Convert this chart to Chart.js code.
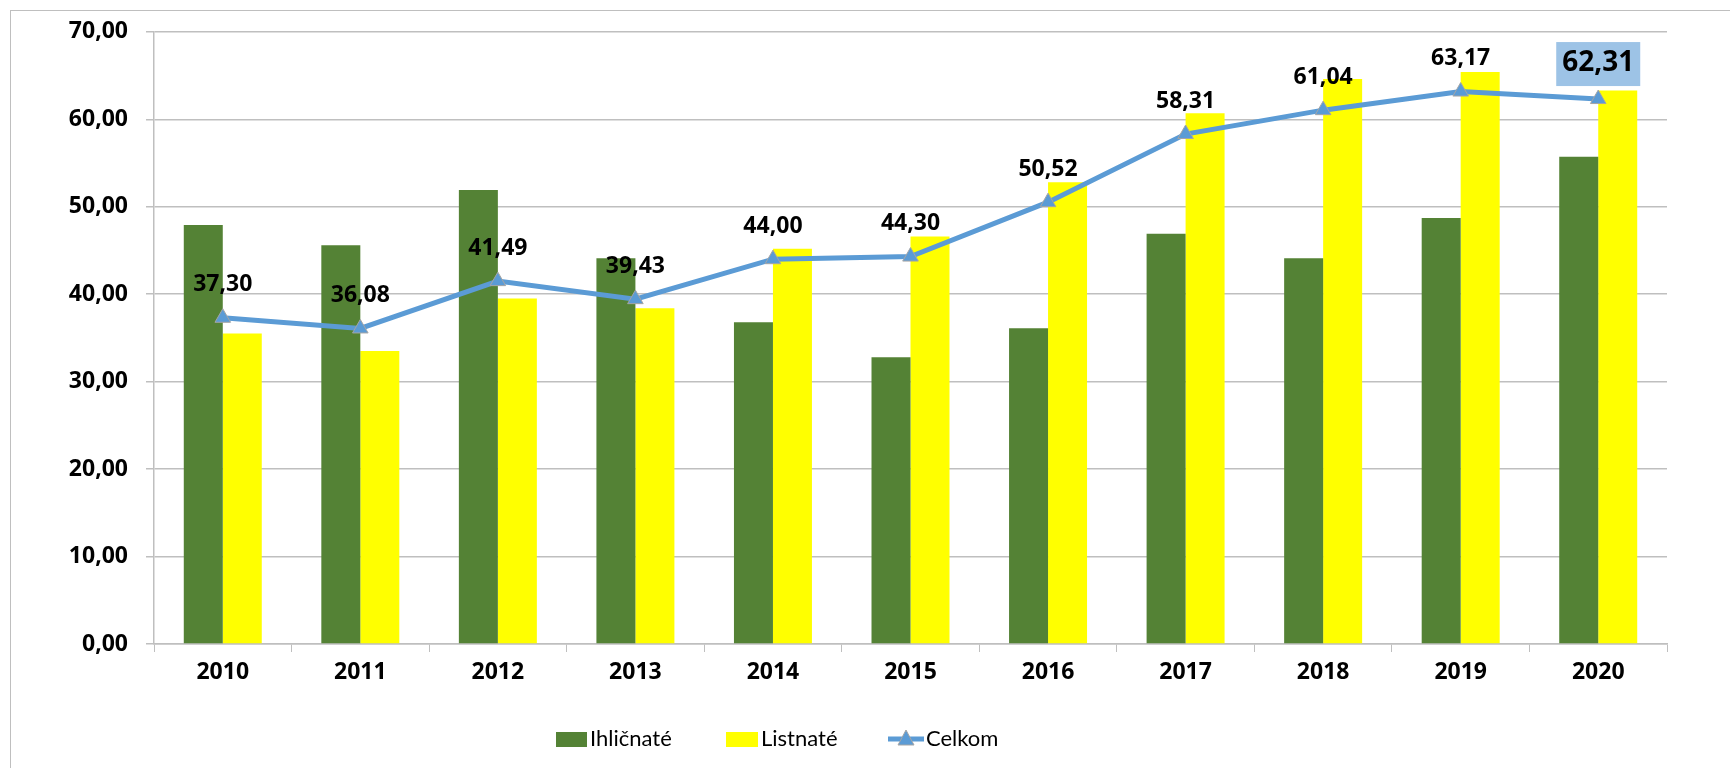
<!DOCTYPE html>
<html>
<head>
<meta charset="utf-8">
<script src="https://cdn.jsdelivr.net/npm/chart.js@4.4.1/dist/chart.umd.min.js"></script>
<style>
  body { margin: 0; background: #fff; }
  #frame { position: absolute; left: 10px; top: 10px; width: 1760px; height: 800px; border: 1.5px solid #BFBFBF; }
  #chart { position: absolute; left: 0; top: 0; }
</style>
</head>
<body>
<div id="frame"></div>
<canvas id="chart" width="1730" height="768"></canvas>
<script>
// data
const years = ['2010', '2011', '2012', '2013', '2014', '2015', '2016', '2017', '2018', '2019', '2020'];
const ihlicnate = [47.9, 45.6, 51.9, 44.1, 36.8, 32.8, 36.1, 46.9, 44.1, 48.7, 55.7];
const listnate = [35.5, 33.5, 39.5, 38.4, 45.2, 46.6, 52.8, 60.7, 64.6, 65.4, 63.3];
const celkom = [37.30, 36.08, 41.49, 39.43, 44.00, 44.30, 50.52, 58.31, 61.04, 63.17, 62.31];

const GREEN = '#548235';
const YELLOW = '#FFFF00';
const BLUE = '#5B9BD5';
const FONT = '"Open Sans", sans-serif';
const LEGEND_FONT = 'Lato, sans-serif';

const fmt = v => v.toFixed(2).replace('.', ',');

// value labels above the Celkom line
const lineLabels = {
    id: 'lineLabels',
    afterDatasetsDraw(chart) {
        const ctx = chart.ctx;
        const meta = chart.getDatasetMeta(0);
        const data = chart.data.datasets[0].data;
        ctx.save();
        ctx.textAlign = 'center';
        ctx.textBaseline = 'middle';
        meta.data.forEach((pt, i) => {
            const txt = fmt(data[i]);
            if (i === data.length - 1) {
                ctx.font = 'bold 28px ' + FONT;
                ctx.fillStyle = '#9DC3E6';
                ctx.fillRect(pt.x - 42, pt.y - 57, 84, 44);
                ctx.fillStyle = '#000';
                ctx.fillText(txt, pt.x, pt.y - 36);
            } else {
                ctx.font = 'bold 23px ' + FONT;
                ctx.fillStyle = '#000';
                ctx.fillText(txt, pt.x, pt.y - 33);
            }
        });
        ctx.restore();
    }
};

// legend drawn by hand so the line entry can carry its triangle
const bottomLegend = {
    id: 'bottomLegend',
    afterDraw(chart) {
        const ctx = chart.ctx;
        const y = 739;
        ctx.save();
        ctx.font = '22px ' + LEGEND_FONT;
        ctx.textBaseline = 'middle';
        ctx.fillStyle = GREEN;
        ctx.fillRect(556, y - 7, 31, 15);
        ctx.fillStyle = YELLOW;
        ctx.fillRect(726, y - 7, 32, 15);
        ctx.strokeStyle = BLUE;
        ctx.lineWidth = 5;
        ctx.beginPath();
        ctx.moveTo(888, y);
        ctx.lineTo(924, y);
        ctx.stroke();
        ctx.fillStyle = BLUE;
        ctx.strokeStyle = '#A5A5A5';
        ctx.lineWidth = 1;
        ctx.beginPath();
        ctx.moveTo(906, y - 9);
        ctx.lineTo(914, y + 6);
        ctx.lineTo(898, y + 6);
        ctx.closePath();
        ctx.fill();
        ctx.stroke();
        ctx.fillStyle = '#000';
        ctx.fillText(chart.data.datasets[1].label, 590, y);
        ctx.fillText(chart.data.datasets[2].label, 761, y);
        ctx.fillText(chart.data.datasets[0].label, 926, y);
        ctx.restore();
    }
};

const ctx = document.getElementById('chart').getContext('2d');
new Chart(ctx, {
    type: 'bar',
    data: {
        labels: years,
        datasets: [{
            type: 'line',
            label: 'Celkom',
            data: celkom,
            borderColor: BLUE,
            backgroundColor: BLUE,
            borderWidth: 5,
            pointStyle: 'triangle',
            pointRadius: 9,
            pointBackgroundColor: BLUE,
            pointBorderColor: '#A5A5A5',
            pointBorderWidth: 1,
            tension: 0,
            order: 0
        },
        {
            label: 'Ihličnaté',
            data: ihlicnate,
            backgroundColor: GREEN,
            categoryPercentage: 0.567,
            barPercentage: 1,
            order: 1
        },
        {
            label: 'Listnaté',
            data: listnate,
            backgroundColor: YELLOW,
            categoryPercentage: 0.567,
            barPercentage: 1,
            order: 1
        }]
    },
    options: {
        responsive: false,
        animation: false,
        devicePixelRatio: 1,
        layout: { padding: { left: 0, right: 63, top: 30, bottom: 60 } },
        plugins: {
            legend: { display: false },
            tooltip: { enabled: false }
        },
        scales: {
            x: {
                grid: { drawOnChartArea: false, drawTicks: true, tickLength: 8, color: '#BFBFBF' },
                border: { color: '#BFBFBF', width: 1.5 },
                ticks: { color: '#000', font: { family: FONT, size: 23, weight: 'bold' }, padding: 7, maxRotation: 0 },
                afterFit(scale) { scale.height = 64; }
            },
            y: {
                min: 0,
                max: 70,
                grid: { color: '#BFBFBF', lineWidth: 1.5, tickLength: 8 },
                border: { color: '#BFBFBF', width: 1.5 },
                ticks: { stepSize: 10, color: '#000', font: { family: FONT, size: 23, weight: 'bold' }, padding: 18,
                         callback: v => fmt(v) },
                afterFit(scale) { scale.width = 154; }
            }
        }
    },
    plugins: [lineLabels, bottomLegend]
});
</script>
</body>
</html>
